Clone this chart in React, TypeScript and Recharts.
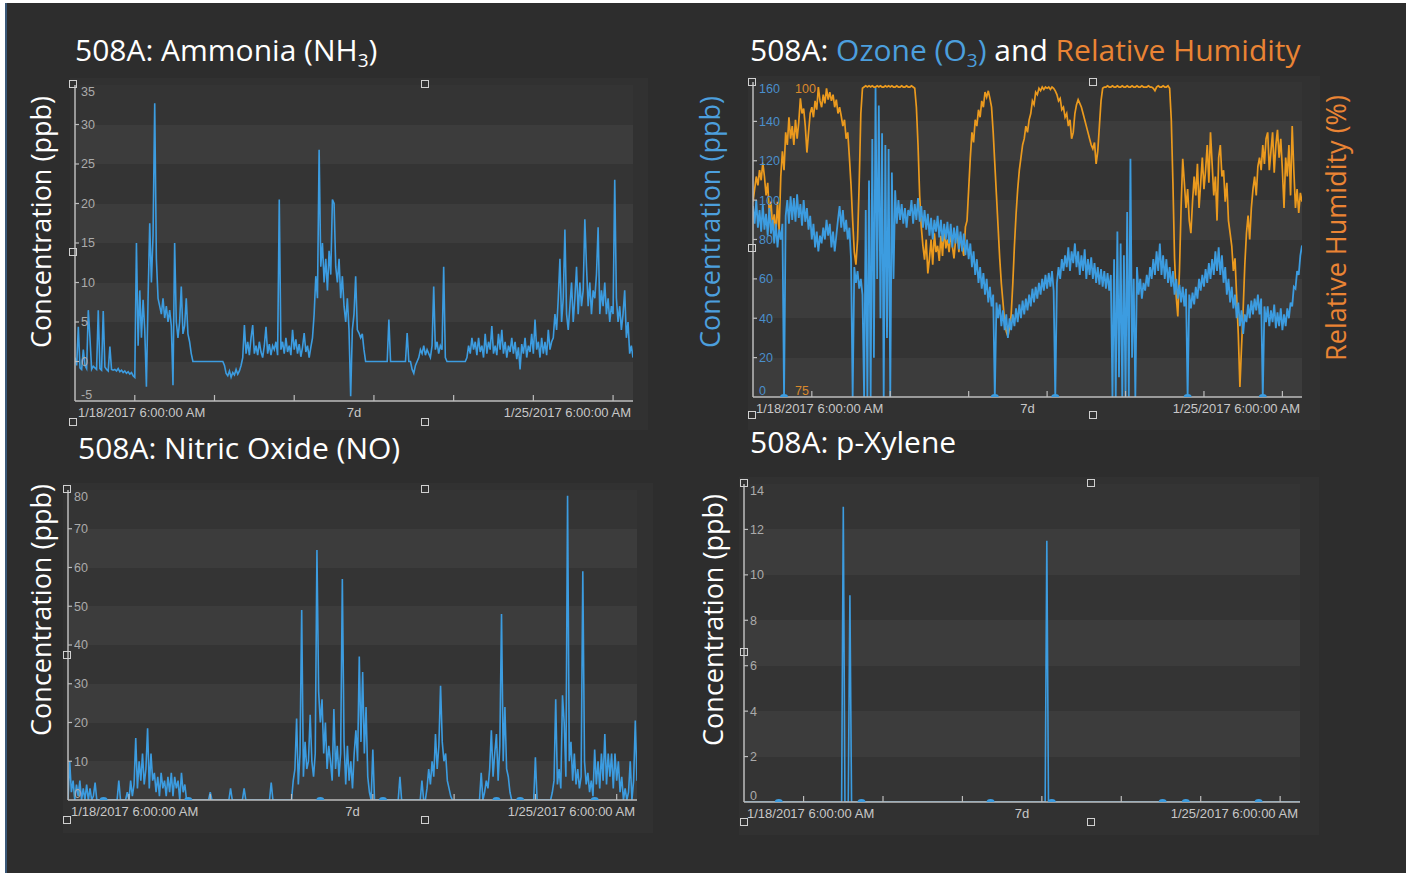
import { ComposedChart, Line, Scatter, XAxis, YAxis, CartesianGrid } from 'recharts'

// ---- shared time axis (hours after 1/18/2017 6:00 AM, one sample every half hour) ----
const STEP = 0.5
const timeTicks = [0, 18, 42, 66, 84, 90, 114, 138, 162, 168]
const midnightTicks = [18, 42, 66, 90, 114, 138, 162]
const startLabel = '1/18/2017 6:00:00 AM'
const spanLabel = '7d'
const endLabel = '1/25/2017 6:00:00 AM'

const ammoniaTicks = [-5, 0, 5, 10, 15, 20, 25, 30, 35]
const ozoneTicks = [0, 20, 40, 60, 80, 100, 120, 140, 160]
const humidityTicks = [75, 100]
const nitricTicks = [0, 10, 20, 30, 40, 50, 60, 70, 80]
const xyleneTicks = [0, 2, 4, 6, 8, 10, 12, 14]

// NH3, ppb (12 values = 6 hours per row)
const ammonia = [
  0.5, -0.5, 4.4, -0.8, -1.0, 1.5, -0.5, -0.9, 6.5, 3.0, -1.0, -0.6,
  -0.8, -1.0, 6.5, -0.9, -1.1, 6.4, -0.7, -1.0, -1.2, 1.9, -1.0, -1.1,
  -1.0, -1.2, -0.9, -1.3, -1.1, -1.4, -1.2, -1.5, -1.3, -1.6, -1.4, -1.8,
  -2.0, 15, 2.0, 9.0, 3.0, 7.8, 4.0, -3.2, 8.0, 17.5, 10, 16,
  32.7, 13, 8.0, 7.0, 6.0, 8.0, 5.5, 7.0, 5.0, 6.5, 4.5, -3.0,
  15, 5.0, 3.0, 5.0, 9.5, 3.5, 4.5, 8.0, 3.5, 2.5, 1.0, 0,
  0, 0, 0, 0, 0, 0, 0, 0, 0, 0, 0, 0,
  0, 0, 0, 0, 0, 0, -0.5, -1.5, -1.8, -1.2, -2.0, -1.4,
  -1.7, -1.0, -1.6, -1.2, -0.5, 0.5, 4.6, 1.0, 2.5, 0.8, 3.0, 4.6,
  1.0, 2.0, 0.8, 2.5, 1.2, 0.5, 2.0, 4.4, 1.0, 2.2, 0.8, 2.0,
  1.5, 2.5, 0.8, 20.5, 1.5, 2.5, 1.0, 3.0, 1.2, 2.0, 0.8, 4.0,
  1.5, 2.8, 1.0, 2.2, 0.6, 1.8, 3.6, 1.2, 2.0, 0.5, 1.8, 3.0,
  6.0, 10.8, 8.0, 26.8, 12, 15, 10, 13, 9.0, 14, 11, 20.5,
  20, 12, 10, 13, 8.0, 10.8, 7.0, 5.0, 8.0, 4.0, -4.4, 4.0,
  6.0, 10.8, 4.0, 3.6, 3.0, 3.5, 1.5, 0, 0, 0, 0, 0,
  0, 0, 0, 0, 0, 0, 0, 0, 0, 5.3, 0, 0,
  0, 0, 0, 0, 0, 0, 0, 0, 3.6, 0, 0, -1.0,
  -1.5, -0.5, 0, 0.5, 1.5, 1.0, 2.0, 0.8, 1.5, 1.0, 0.5, 2.0,
  9.5, 1.5, 2.5, 1.0, 2.0, 1.5, 12, 0.5, 0, 0, 0, 0,
  0, 0, 0, 0, 0, 0, 0, 0, 0.5, 2.0, 1.0, 3.0,
  1.5, 2.5, 0.8, 3.0, 1.2, 2.0, 0.5, 3.5, 1.0, 2.5, 1.5, 4.5,
  1.0, 2.0, 0.8, 3.5, 1.5, 4.0, 1.0, 2.5, 0.5, 2.0, 1.2, 3.0,
  1.0, 2.5, 0.3, 1.8, -1.0, 2.2, 1.0, 3.0, 0.5, 2.0, 1.2, 3.5,
  1.0, 5.3, 1.5, 2.5, 0.5, 3.0, 1.0, 2.5, 0.8, 4.0, 1.5, 2.5,
  3.0, 6.0, 4.0, 8.0, 13, 5.0, 8.0, 16.7, 6.0, 4.0, 7.0, 10,
  5.0, 8.0, 12, 6.0, 10, 7.0, 9.0, 18, 12, 7.0, 10, 6.0,
  9.0, 8.0, 11, 17, 6.0, 9.0, 7.0, 10, 6.0, 8.0, 5.0, 7.0,
  6.0, 23, 8.0, 5.0, 7.0, 4.0, 6.0, 9.0, 3.0, 5.0, 1.0, 2.0,
  0.5,
]

// O3, ppb
const ozone = [
  97, 88, 100, 86, 95, 84, 98, 85, 93, 82, 96, 83,
  90, 78, 88, 76, 85, 80, 88, 0, 92, 100, 88, 102,
  90, 101, 89, 103, 91, 98, 87, 100, 89, 96, 85, 92,
  80, 88, 76, 84, 74, 82, 78, 86, 80, 90, 82, 88,
  76, 84, 74, 82, 90, 97, 86, 95, 84, 90, 80, 86,
  70, 0, 66, 58, 64, 55, 60, 52, 0, 95, 0, 110,
  0, 131, 20, 157, 60, 148, 40, 134, 0, 128, 30, 126,
  0, 114, 60, 105, 88, 100, 90, 98, 88, 96, 86, 95,
  92, 100, 88, 98, 90, 101, 89, 97, 86, 95, 85, 93,
  82, 91, 80, 90, 84, 92, 81, 90, 79, 88, 80, 89,
  78, 88, 76, 86, 78, 87, 75, 84, 74, 83, 72, 80,
  70, 78, 66, 74, 62, 70, 58, 66, 55, 63, 52, 60,
  48, 56, 46, 52, 0, 48, 40, 47, 36, 44, 34, 42,
  30, 40, 34, 42, 36, 45, 38, 47, 40, 49, 42, 50,
  44, 52, 46, 55, 48, 56, 50, 58, 52, 60, 54, 62,
  55, 63, 56, 64, 54, 0, 58, 66, 60, 70, 64, 72,
  66, 76, 64, 74, 68, 78, 66, 74, 62, 72, 64, 75,
  60, 70, 62, 71, 60, 68, 58, 66, 57, 65, 56, 64,
  55, 63, 54, 62, 0, 70, 0, 84, 10, 78, 0, 72,
  0, 94, 0, 121, 20, 60, 0, 66, 52, 60, 50, 58,
  54, 62, 56, 66, 60, 70, 62, 74, 64, 78, 62, 72,
  60, 70, 58, 66, 56, 64, 52, 60, 50, 57, 48, 56,
  46, 55, 0, 52, 45, 53, 47, 56, 50, 60, 54, 62,
  56, 65, 58, 68, 60, 70, 62, 74, 64, 76, 62, 72,
  58, 66, 52, 60, 48, 56, 45, 52, 40, 48, 36, 44,
  32, 42, 38, 47, 40, 49, 42, 50, 44, 52, 42, 50,
  0, 46, 38, 46, 36, 44, 38, 47, 35, 43, 36, 45,
  34, 42, 36, 45, 40, 48, 46, 56, 55, 64, 62, 72,
  77,
]

// relative humidity, %
const humidity = [
  90.5, 91.5, 92.5, 91.8, 93.0, 92.2, 93.6, 92.5, 91.0, 92.0, 89.5, 90.5,
  88.5, 89.5, 88.0, 90.5, 88.2, 92.5, 94.5, 93.0, 96.0, 95.0, 97.2, 95.5,
  96.5, 95.0, 97.0, 95.5, 96.8, 98.7, 97.5, 97.9, 96.5, 94.4, 96.0, 97.5,
  98.0, 97.2, 98.5, 97.8, 99.6, 98.5, 98.0, 99.0, 98.3, 99.5, 98.6, 99.2,
  98.5, 99.0, 98.0, 98.6, 97.5, 98.0, 97.3, 96.5, 97.0, 95.5, 96.0, 94.0,
  91.8, 89.0, 86.5, 85.5, 87.5, 92.0, 97.5, 99.5, 99.6, 99.7, 99.6, 99.7,
  99.6, 99.7, 99.6, 99.6, 99.7, 99.6, 99.7, 99.6, 99.6, 99.7, 99.6, 99.7,
  99.6, 99.7, 99.6, 99.6, 99.7, 99.6, 99.6, 99.7, 99.6, 99.6, 99.7, 99.6,
  99.6, 99.7, 99.6, 99.5, 98.0, 95.0, 91.0, 88.5, 87.0, 85.9, 87.5, 84.8,
  86.0, 87.5, 85.5, 88.0, 86.5, 87.0, 85.8, 87.8, 86.2, 88.5, 86.8, 87.5,
  86.5, 88.0, 87.0, 86.0, 87.5, 88.0, 86.5, 87.8, 87.0, 86.2, 88.5, 89.0,
  91.5, 94.0, 96.0, 95.2, 97.0, 96.5, 97.8, 97.2, 98.5, 98.0, 99.2, 98.8,
  99.3, 98.7, 98.0, 96.0, 93.5, 91.0, 88.5, 86.0, 84.0, 82.5, 81.0, 80.2,
  79.8, 80.5, 81.5, 84.0, 87.0, 89.5, 91.5, 93.0, 94.0, 95.0, 95.5, 96.5,
  96.0, 97.0, 97.5, 98.5, 98.2, 99.2, 99.0, 99.5, 99.3, 99.6, 99.4, 99.6,
  99.5, 99.6, 99.4, 99.6, 99.5, 99.3, 99.0, 98.5, 98.7, 97.8, 98.0, 97.2,
  97.5, 96.5, 97.0, 95.5, 96.0, 97.5, 98.2, 98.6, 98.3, 98.0, 97.5, 97.0,
  96.5, 96.0, 95.5, 95.0, 94.7, 95.2, 93.5, 94.5, 96.5, 98.5, 99.5, 99.6,
  99.6, 99.7, 99.6, 99.6, 99.7, 99.6, 99.6, 99.7, 99.6, 99.6, 99.7, 99.6,
  99.6, 99.7, 99.6, 99.6, 99.7, 99.6, 99.6, 99.7, 99.6, 99.6, 99.7, 99.6,
  99.6, 99.6, 99.7, 99.6, 99.6, 99.5, 99.3, 99.6, 99.7, 99.6, 99.6, 99.7,
  99.6, 99.6, 99.7, 99.5, 97.0, 92.0, 86.0, 83.0, 81.4, 85.0, 90.0, 93.9,
  92.0, 90.0, 91.5, 89.0, 88.0, 90.5, 92.5, 91.0, 93.5, 90.0, 92.0, 94.0,
  91.5, 93.0, 95.0, 92.0, 96.0, 93.5, 91.0, 92.5, 89.0, 94.0, 95.0, 92.5,
  93.0, 90.5, 92.0, 89.0, 88.0, 87.0, 85.0, 86.0, 83.0, 80.0, 75.8, 79.0,
  82.0, 85.5, 88.0, 89.4, 87.5, 90.0, 91.5, 92.5, 91.0, 93.3, 94.0, 93.0,
  95.0, 93.5, 95.5, 96.0, 93.0, 94.5, 96.0, 92.8, 95.0, 96.2, 94.0, 95.5,
  93.0, 90.0, 94.0, 92.5, 95.0, 91.0, 96.5, 93.0, 90.0, 91.5, 89.6, 91.2,
  90.5,
]

// NO, ppb
const nitric = [
  0, 10, 2, 5, 0, 4, 1, 5, 0, 3, 0, 4,
  0, 3, 0, 1, 4.5, 0, 0, 0, 0, 0, 0, 0,
  0, 0, 0, 0, 0, 0, 5, 0, 0, 0, 0, 2,
  0, 5, 1, 4, 16, 3, 10, 5, 12, 4, 8, 18.5,
  3, 12, 5, 7, 2, 6, 1, 7, 3, 5, 1, 6,
  2, 7, 1, 6, 3, 5, 0, 7, 2, 4, 0, 0,
  0, 0, 0, 0, 0, 0, 0, 0, 0, 0, 0, 0,
  2, 0, 0, 0, 0, 0, 0, 0, 0, 0, 0, 0,
  3, 0, 0, 0, 0, 0, 0, 0, 3, 0, 0, 0,
  0, 0, 0, 0, 0, 0, 0, 0, 0, 0, 0, 0,
  4.5, 0, 0, 0, 0, 0, 0, 0, 0, 0, 0, 0,
  0, 5, 8, 21, 4, 12, 49, 6, 15, 8, 10, 22,
  10, 6, 12, 64.5, 28, 20, 26, 12, 20, 8, 14, 10,
  5, 23.5, 8, 14, 6, 12, 57, 15, 4, 14, 5, 10,
  3, 12, 18, 10, 37, 15, 33, 12, 24, 6, 2, 0,
  13, 0, 0, 0, 0, 0, 0, 0, 0, 0, 0, 0,
  0, 0, 0, 0, 6, 0, 0, 0, 0, 0, 0, 0,
  0, 0, 0, 0, 0, 5, 0, 0, 3, 8, 4, 10,
  6, 17, 8, 14, 29.5, 15, 10, 12, 5, 3, 1, 0,
  0, 0, 0, 0, 0, 0, 0, 0, 0, 0, 0, 0,
  0, 0, 0, 0, 7, 0, 2, 5, 3, 8, 18, 6,
  12, 17, 5, 14, 48, 10, 24, 8, 6, 2, 0, 0,
  0, 0, 0, 0, 0, 0, 0, 0, 0, 0, 0, 0,
  11, 0, 0, 0, 0, 0, 0, 0, 0, 0, 2, 5,
  26, 4, 8, 3, 27, 20, 6, 78.5, 10, 15, 5, 12,
  4, 8, 3, 6, 59, 10, 4, 7, 2, 5, 1, 13,
  4, 10, 3, 12, 5, 17, 4, 12, 6, 12, 3, 12,
  5, 10, 2, 6, 0, 3, 0, 2, 10, 0, 5, 20.5,
  5,
]

// p-xylene is zero except for three short spikes
const xyleneHours = [0, 29.5, 30, 30.5, 31.5, 32, 32.5, 91, 91.5, 92, 168]
const xyleneValues = [0, 0, 13, 0, 0, 9.1, 0, 0, 11.5, 0, 0]

// small markers sitting on the time axis
const gapHours = [10.5, 35.5, 74.5, 93, 126.5, 133.5, 155.5]
const ozoneGapHours = [9.5, 74, 92.5, 133, 156]

const ammoniaData = ammonia.map((v, i) => ({ t: i * STEP, v }))
const ozoneData = ozone.map((v, i) => ({ t: i * STEP, o3: v, rh: humidity[i] }))
const nitricData = nitric.map((v, i) => ({ t: i * STEP, v }))
const xyleneData = xyleneHours.map((t, i) => ({ t, v: xyleneValues[i] }))
const gapDots = gapHours.map((t) => ({ t, v: 0 }))
const ozoneGapDots = ozoneGapHours.map((t) => ({ t, v: 0 }))

const BLUE = '#3c9ce0'
const ORANGE = '#eb9a1e'
const TITLE_ORANGE = '#ea8434'
const TITLE_BLUE = '#4c9fdd'
const AXIS = '#bdbdbd'
const BAND = ['#343434', '#3c3c3c']
const TICK_FONT = "'Liberation Sans', Arial, sans-serif"
const TITLE_FONT = "'Open Sans', 'Noto Sans', sans-serif"
const X_AXIS_H = 25

const renderTimeTick = (p: any) => {
  const v = p.payload.value
  const { x, y } = p
  const style = { fill: '#c8c8c8', fontSize: 13, fontFamily: TICK_FONT }
  return (
    <g>
      {midnightTicks.includes(v) && <line x1={x} x2={x} y1={y} y2={y - 6} stroke={AXIS} strokeWidth={1.2} />}
      {v === 0 && <text x={x + 3} y={y + 16} textAnchor="start" {...style}>{startLabel}</text>}
      {v === 84 && <text x={x} y={y + 16} textAnchor="middle" {...style}>{spanLabel}</text>}
      {v === 168 && <text x={x - 2} y={y + 16} textAnchor="end" {...style}>{endLabel}</text>}
    </g>
  )
}

const makeValueTick = (top: number, bottom: number, color: string, fixedX?: number) => (p: any) => {
  const { x, y } = p
  const ty = Math.min(Math.max(y, top + 7), bottom - 6)
  const edge = Math.abs(ty - y) > 0.5
  const tx = fixedX ?? x + 6
  return (
    <g>
      {fixedX === undefined && !edge && <line x1={x} x2={x + 4} y1={y} y2={y} stroke={AXIS} strokeWidth={1.2} />}
      <text x={tx} y={ty} dy="0.35em" textAnchor="start" fill={color} fontSize={12.5} fontFamily={TICK_FONT}>
        {p.payload.value}
      </text>
    </g>
  )
}

const Handle = ({ x, y }: any) => (
  <div
    style={{
      position: 'absolute',
      left: x - 4,
      top: y - 4,
      width: 6,
      height: 6,
      border: '1.3px solid #d0d0d0',
      boxSizing: 'content-box',
    }}
  />
)

const VLabel = ({ x, y, color, size = 27, children }: any) => (
  <div
    style={{
      position: 'absolute',
      left: x,
      top: y,
      transform: 'translate(-50%, -50%) rotate(-90deg)',
      whiteSpace: 'nowrap',
      color,
      fontSize: size,
      fontFamily: TITLE_FONT,
      lineHeight: 1,
    }}
  >
    {children}
  </div>
)

const Title = ({ x, y, children }: any) => (
  <div
    style={{
      position: 'absolute',
      left: x,
      top: y,
      whiteSpace: 'nowrap',
      color: '#ffffff',
      fontSize: 30,
      fontFamily: TITLE_FONT,
      lineHeight: 1,
    }}
  >
    {children}
  </div>
)

const Sub = ({ children }: any) => (
  <sub style={{ fontSize: 19, verticalAlign: 'baseline', position: 'relative', top: 6 }}>{children}</sub>
)

const boxStyle = (left: number, top: number, width: number, height: number): any => ({
  position: 'absolute',
  left,
  top,
  width,
  height,
  background: '#313131',
})

const timeAxisProps: any = {
  dataKey: 't',
  type: 'number',
  domain: [0, 168],
  ticks: timeTicks,
  interval: 0,
  tickLine: false,
  tickSize: 0,
  tickMargin: 0,
  height: X_AXIS_H,
  axisLine: { stroke: AXIS, strokeWidth: 1.5 },
  tick: renderTimeTick,
  allowDataOverflow: true,
}

const gapShape = (p: any) => <ellipse cx={p.cx} cy={p.cy} rx={4} ry={3} fill={BLUE} />

export default function App() {
  // chart boxes
  const A = { left: 70, top: 78, w: 578, h: 352, m: { top: 7, right: 15, bottom: 4, left: 5 } }
  const O = { left: 748, top: 76, w: 572, h: 354, m: { top: 6, right: 18, bottom: 8, left: 5 } }
  const N = { left: 63, top: 483, w: 590, h: 350, m: { top: 7, right: 16, bottom: 8, left: 5 } }
  const X = { left: 739, top: 477, w: 580, h: 358, m: { top: 7, right: 19, bottom: 8, left: 5 } }
  const bottomOf = (c: any) => c.h - c.m.bottom - X_AXIS_H

  return (
    <div style={{ position: 'absolute', left: 0, top: 0, width: 1413, height: 878, background: '#ffffff', overflow: 'hidden' }}>
      <div
        style={{
          position: 'absolute',
          left: 5,
          top: 3,
          width: 1401,
          height: 870,
          background: '#2d2d2d',
          borderLeft: '2px solid #3a5878',
          boxSizing: 'border-box',
        }}
      />

      {/* ---------- Ammonia ---------- */}
      <Title x={75} y={35}>
        508A: Ammonia (NH<Sub>3</Sub>)
      </Title>
      <div style={boxStyle(A.left, A.top, A.w, A.h)}>
        <ComposedChart width={A.w} height={A.h} data={ammoniaData} margin={A.m}>
          <CartesianGrid vertical={false} strokeOpacity={0} horizontalFill={BAND} fillOpacity={1} />
          <XAxis {...timeAxisProps} />
          <YAxis
            mirror
            domain={[-5, 35]}
            ticks={ammoniaTicks}
            interval={0}
            tickLine={false}
            tickSize={0}
            tickMargin={0}
            axisLine={{ stroke: AXIS, strokeWidth: 1.5 }}
            tick={makeValueTick(A.m.top, bottomOf(A), '#ababab')}
            allowDataOverflow
          />
          <Line type="linear" dataKey="v" stroke={BLUE} strokeWidth={1.6} dot={false} isAnimationActive={false} />
        </ComposedChart>
      </div>
      <VLabel x={40} y={222} color="#ffffff">Concentration (ppb)</VLabel>

      {/* ---------- Ozone + RH ---------- */}
      <Title x={750} y={35}>
        508A: <span style={{ color: TITLE_BLUE }}>Ozone (O<Sub>3</Sub>)</span> and{' '}
        <span style={{ color: TITLE_ORANGE }}>Relative Humidity</span>
      </Title>
      <div style={boxStyle(O.left, O.top, O.w, O.h)}>
        <ComposedChart width={O.w} height={O.h} data={ozoneData} margin={O.m}>
          <CartesianGrid yAxisId="o3" vertical={false} strokeOpacity={0} horizontalFill={BAND} fillOpacity={1} />
          <XAxis {...timeAxisProps} />
          <YAxis
            yAxisId="o3"
            mirror
            domain={[0, 160]}
            ticks={ozoneTicks}
            interval={0}
            tickLine={false}
            tickSize={0}
            tickMargin={0}
            axisLine={{ stroke: AXIS, strokeWidth: 1.5 }}
            tick={makeValueTick(O.m.top, bottomOf(O), '#4a8fcc')}
            allowDataOverflow
          />
          <YAxis
            yAxisId="rh"
            mirror
            domain={[75, 100]}
            ticks={humidityTicks}
            interval={0}
            tickLine={false}
            tickSize={0}
            tickMargin={0}
            axisLine={false}
            tick={makeValueTick(O.m.top, bottomOf(O), '#d9892c', O.m.left + 42)}
            allowDataOverflow
          />
          <Line yAxisId="rh" type="linear" dataKey="rh" stroke={ORANGE} strokeWidth={1.7} dot={false} isAnimationActive={false} />
          <Line yAxisId="o3" type="linear" dataKey="o3" stroke={BLUE} strokeWidth={1.8} dot={false} isAnimationActive={false} />
          <Scatter yAxisId="o3" data={ozoneGapDots} dataKey="v" shape={gapShape} isAnimationActive={false} />
        </ComposedChart>
      </div>
      <VLabel x={709} y={222} color={TITLE_BLUE}>Concentration (ppb)</VLabel>
      <VLabel x={1335} y={228} color={TITLE_ORANGE}>Relative Humidity (%)</VLabel>

      {/* ---------- Nitric oxide ---------- */}
      <Title x={78} y={433}>508A: Nitric Oxide (NO)</Title>
      <div style={boxStyle(N.left, N.top, N.w, N.h)}>
        <ComposedChart width={N.w} height={N.h} data={nitricData} margin={N.m}>
          <CartesianGrid vertical={false} strokeOpacity={0} horizontalFill={BAND} fillOpacity={1} />
          <XAxis {...timeAxisProps} />
          <YAxis
            mirror
            domain={[0, 80]}
            ticks={nitricTicks}
            interval={0}
            tickLine={false}
            tickSize={0}
            tickMargin={0}
            axisLine={{ stroke: AXIS, strokeWidth: 1.5 }}
            tick={makeValueTick(N.m.top, bottomOf(N), '#ababab')}
            allowDataOverflow
          />
          <Line type="linear" dataKey="v" stroke={BLUE} strokeWidth={1.6} dot={false} isAnimationActive={false} />
          <Scatter data={gapDots} dataKey="v" shape={gapShape} isAnimationActive={false} />
        </ComposedChart>
      </div>
      <VLabel x={40} y={610} color="#ffffff">Concentration (ppb)</VLabel>

      {/* ---------- p-Xylene ---------- */}
      <Title x={750} y={427}>508A: p-Xylene</Title>
      <div style={boxStyle(X.left, X.top, X.w, X.h)}>
        <ComposedChart width={X.w} height={X.h} data={xyleneData} margin={X.m}>
          <CartesianGrid vertical={false} strokeOpacity={0} horizontalFill={BAND} fillOpacity={1} />
          <XAxis {...timeAxisProps} />
          <YAxis
            mirror
            domain={[0, 14]}
            ticks={xyleneTicks}
            interval={0}
            tickLine={false}
            tickSize={0}
            tickMargin={0}
            axisLine={{ stroke: AXIS, strokeWidth: 1.5 }}
            tick={makeValueTick(X.m.top, bottomOf(X), '#ababab')}
            allowDataOverflow
          />
          <Line type="linear" dataKey="v" stroke={BLUE} strokeWidth={1.6} dot={false} isAnimationActive={false} />
          <Scatter data={gapDots} dataKey="v" shape={gapShape} isAnimationActive={false} />
        </ComposedChart>
      </div>
      <VLabel x={712} y={620} color="#ffffff">Concentration (ppb)</VLabel>

      {/* selection handles */}
      {[
        [73, 84], [425, 84], [73, 252], [73, 422], [425, 422],
        [752, 82], [1093, 82], [752, 248], [752, 415], [1093, 415],
        [67, 489], [425, 489], [67, 655], [67, 820], [425, 820],
        [744, 483], [1091, 483], [744, 652], [744, 822], [1091, 822],
      ].map(([x, y], i) => (
        <Handle key={i} x={x} y={y} />
      ))}
    </div>
  )
}
